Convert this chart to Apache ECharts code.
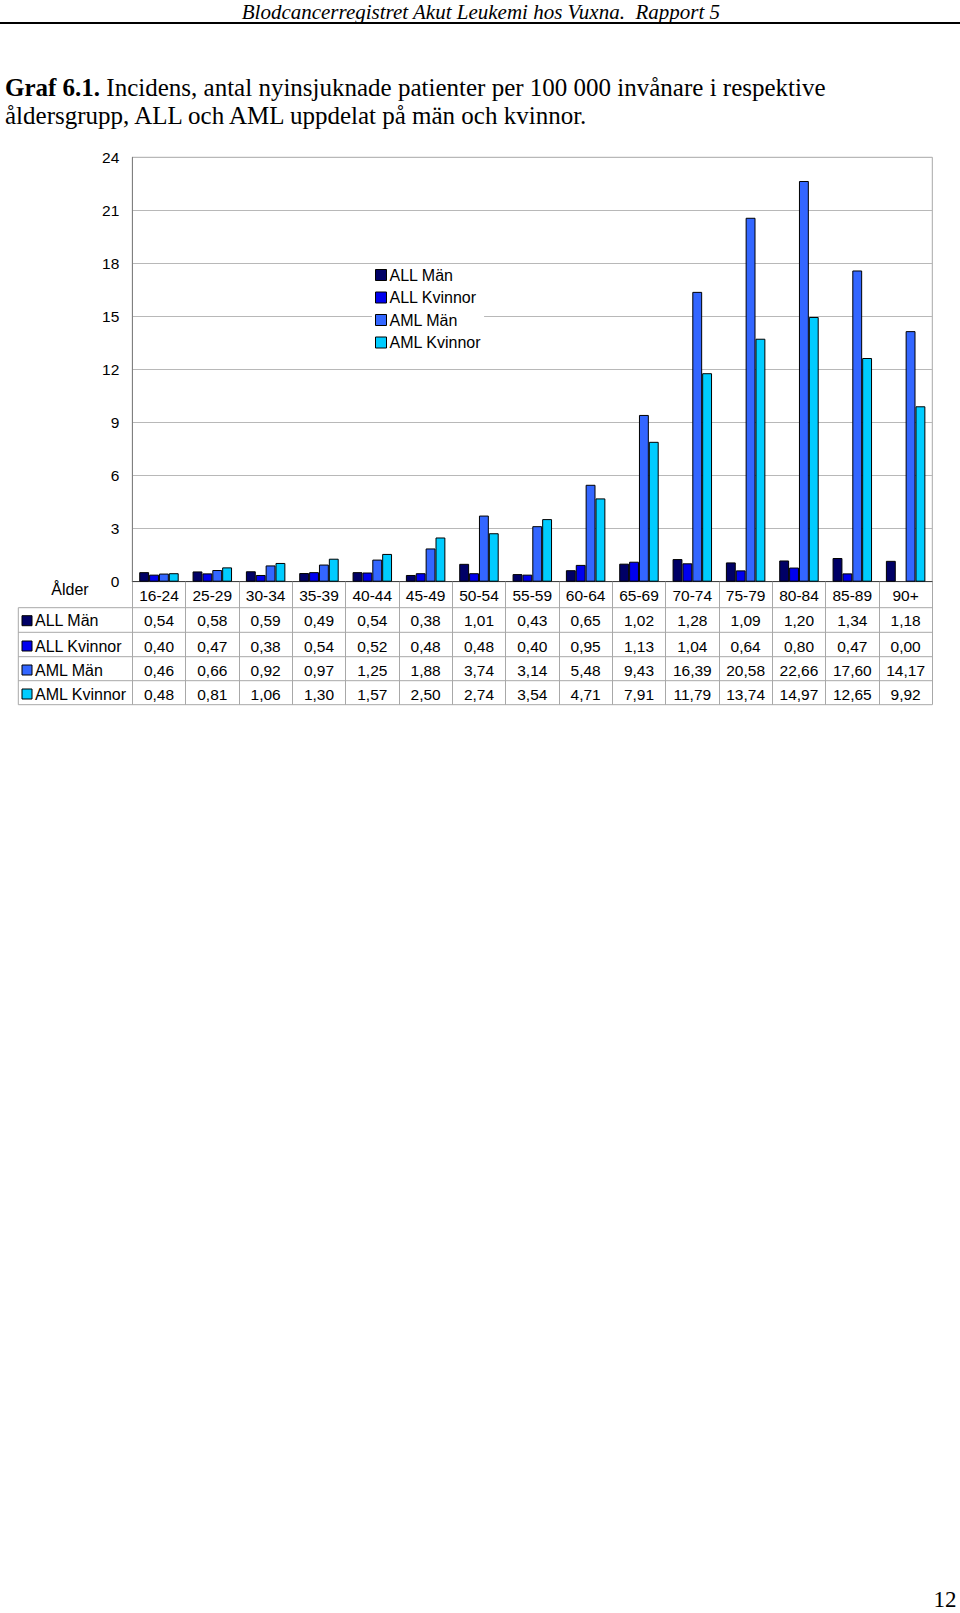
<!DOCTYPE html>
<html>
<head>
<meta charset="utf-8">
<script src="https://cdn.jsdelivr.net/npm/echarts@6/dist/echarts.min.js"></script>
<style>
html,body{margin:0;padding:0;background:#fff;}
#chart{width:960px;height:1613px;}
</style>
</head>
<body>
<div id="chart"></div>
<script>
// ---- data ----
const categories = ['16-24','25-29','30-34','35-39','40-44','45-49','50-54','55-59','60-64','65-69','70-74','75-79','80-84','85-89','90+'];
const seriesNames = ['ALL Män','ALL Kvinnor','AML Män','AML Kvinnor'];
const allMan     = [0.54,0.58,0.59,0.49,0.54,0.38,1.01,0.43,0.65,1.02,1.28,1.09,1.20,1.34,1.18];
const allKvinnor = [0.40,0.47,0.38,0.54,0.52,0.48,0.48,0.40,0.95,1.13,1.04,0.64,0.80,0.47,0.00];
const amlMan     = [0.46,0.66,0.92,0.97,1.25,1.88,3.74,3.14,5.48,9.43,16.39,20.58,22.66,17.60,14.17];
const amlKvinnor = [0.48,0.81,1.06,1.30,1.57,2.50,2.74,3.54,4.71,7.91,11.79,13.74,14.97,12.65,9.92];
const yTicks = [0,3,6,9,12,15,18,21,24];
const headerText = 'Blodcancerregistret Akut Leukemi hos Vuxna.  Rapport 5';
const titleBold = 'Graf 6.1.';
const titleLine1 = ' Incidens, antal nyinsjuknade patienter per 100 000 invånare i respektive';
const titleLine2 = 'åldersgrupp, ALL och AML uppdelat på män och kvinnor.';
const rowLabel = 'Ålder';
const pageNumber = '12';

// ---- layout ----
const colors = ['#000066','#0000ee','#3366ff','#00ccff'];
const values = [allMan, allKvinnor, amlMan, amlKvinnor];
const G = {left:132.3, top:157.3, right:932.3, bottom:581.7};
const tableLeft = 18.3;
const rowLines = [607.7, 632.3, 656.7, 680.7, 704.7];
const rowCenters = [620.7, 646, 670, 694];
const headerCenter = 595;
const FONT = 'Arial, "Liberation Sans", Helvetica, sans-serif';
const SERIF = '"Times New Roman", "Liberation Serif", serif';
const fmt = v => v.toFixed(2).replace('.', ',');

const chart = echarts.init(document.getElementById('chart'), null, {renderer:'svg'});

const xAxes = [{
  type:'category', data:categories, gridIndex:0, position:'bottom',
  boundaryGap:true,
  axisLine:{show:true, lineStyle:{color:'#404040', width:1}},
  axisTick:{show:true, interval:0, length: rowLines[rowLines.length-1]-G.bottom, lineStyle:{color:'#a8a8a8', width:1}},
  axisLabel:{show:true, interval:0, color:'#000', fontFamily:FONT, fontSize:15.5, margin: headerCenter-G.bottom, verticalAlign:'middle'},
  splitLine:{show:false}
}];
values.forEach((arr, i) => {
  xAxes.push({
    type:'category', data:categories, gridIndex:0, position:'bottom',
    axisLine:{show:false}, axisTick:{show:false}, splitLine:{show:false},
    axisLabel:{show:true, interval:0, color:'#000', fontFamily:FONT, fontSize:15.5,
      margin: rowCenters[i]-G.bottom, verticalAlign:'middle',
      formatter:(v, idx) => fmt(arr[idx])}
  });
});

const graphics = [];
// header
graphics.push({type:'text', x:720, y:11.5, style:{text:headerText, font:'italic 21px '+SERIF, fill:'#000', textAlign:'right', textVerticalAlign:'middle'}});
graphics.push({type:'line', shape:{x1:0,y1:23,x2:960,y2:23}, style:{stroke:'#000', lineWidth:2}});
graphics.push({type:'text', x:5, y:87.5, style:{
  text:'{b|'+titleBold+'}{n|'+titleLine1+'}', textVerticalAlign:'middle',
  rich:{b:{font:'bold 25px '+SERIF, fill:'#000'}, n:{font:'25px '+SERIF, fill:'#000'}}
}});
graphics.push({type:'text', x:5, y:115, style:{text:titleLine2, font:'25px '+SERIF, fill:'#000', textVerticalAlign:'middle'}});
// table lines
rowLines.forEach(y => graphics.push({type:'line', shape:{x1:tableLeft,y1:y,x2:G.right,y2:y}, style:{stroke:'#a8a8a8', lineWidth:1}}));
graphics.push({type:'line', shape:{x1:tableLeft,y1:rowLines[0],x2:tableLeft,y2:rowLines[rowLines.length-1]}, style:{stroke:'#a8a8a8', lineWidth:1}});
// row labels
graphics.push({type:'text', x:70, y:589, style:{text:rowLabel, font:'16px '+FONT, fill:'#000', textAlign:'center', textVerticalAlign:'middle'}});
seriesNames.forEach((n, i) => {
  graphics.push({type:'rect', shape:{x:22, y:rowCenters[i]-5, width:10, height:10}, style:{fill:colors[i], stroke:'#000', lineWidth:1}});
  graphics.push({type:'text', x:35, y:rowCenters[i], style:{text:n, font:'16px '+FONT, fill:'#000', textVerticalAlign:'middle'}});
});
graphics.push({type:'text', x:945, y:1599, style:{text:pageNumber, font:'23px '+SERIF, fill:'#000', textAlign:'center', textVerticalAlign:'middle'}});

chart.setOption({
  animation:false,
  backgroundColor:'#fff',
  grid:{left:G.left, top:G.top, width:G.right-G.left, height:G.bottom-G.top, show:true, borderColor:'#a8a8a8', borderWidth:1, containLabel:false},
  legend:{
    orient:'vertical', left:372, top:264, data:seriesNames,
    itemWidth:11, itemHeight:11, itemGap:6.5, padding:[3,3,3,3],
    backgroundColor:'#fff',
    textStyle:{color:'#000', fontFamily:FONT, fontSize:16, padding:[0,0,0,-2]},
    icon:'rect',
    itemStyle:{borderColor:'#000', borderWidth:1}
  },
  xAxis:xAxes,
  yAxis:{
    type:'value', min:yTicks[0], max:yTicks[yTicks.length-1], interval:3,
    axisLine:{show:true, lineStyle:{color:'#808080'}},
    axisTick:{show:false},
    axisLabel:{color:'#000', fontFamily:FONT, fontSize:15.5, margin:13},
    splitLine:{show:true, lineStyle:{color:'#b8b8b8', width:1}}
  },
  series: seriesNames.map((n, i) => ({
    name:n, type:'bar', xAxisIndex:0,
    data:values[i].map(v => (v === 0 ? null : v)),
    barGap:'0%', barCategoryGap:'26%',
    itemStyle:{color:colors[i], borderColor:'#000', borderWidth:1}
  })),
  graphic:graphics
});
</script>
</body>
</html>
